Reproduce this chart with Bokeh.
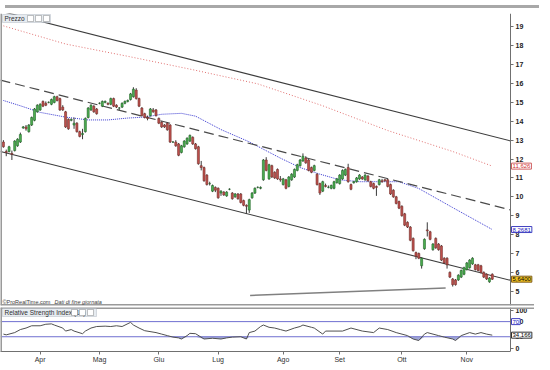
import numpy as np
from bokeh.plotting import figure
from bokeh.models import FixedTicker, Span, Label, Div, BoxAnnotation, Range1d, LinearAxis
from bokeh.layouts import column
from bokeh.embed import file_html
from bokeh.resources import INLINE

# ---------------- data ----------------
opens = [12.90, 12.40, 12.40, 12.30, 12.45, 12.70, 12.90, 13.65, 13.70, 13.45,
         13.80, 14.05, 14.50, 14.60, 15.05, 14.95, 15.00, 14.90, 15.00, 15.30,
         15.20, 14.75, 14.50, 14.10, 14.05, 13.80, 13.90, 13.45, 13.30, 13.45,
         14.20, 14.60, 14.80, 14.65, 14.95, 14.80, 15.00, 14.95, 14.90, 15.20,
         14.85, 14.70, 14.75, 14.95, 15.05, 15.15, 15.30, 15.65, 15.20, 14.70,
         14.40, 14.20, 14.30, 14.60, 14.60, 14.15, 13.95, 13.80, 13.90, 13.80,
         12.90, 12.90, 12.80, 12.35, 12.65, 12.80, 12.95, 13.15, 12.80, 12.65,
         11.65, 11.55, 11.15, 10.70, 10.30, 10.50, 10.45, 10.20, 10.25, 10.05,
         10.40, 10.20, 10.00, 10.15, 10.15, 9.80, 9.55, 9.30, 9.95, 10.20,
         10.50, 10.45, 10.90, 11.95, 10.95, 11.65, 11.30, 11.45, 10.95, 10.65,
         10.90, 10.55, 10.90, 11.05, 11.40, 11.65, 11.90, 12.05, 11.95, 11.55,
         11.40, 11.20, 10.70, 10.30, 10.60, 10.50, 10.45, 10.45, 10.75, 10.70,
         10.95, 11.15, 11.55, 10.65, 10.75, 10.80, 10.95, 11.05, 10.90, 11.10,
         10.80, 10.70, 10.55, 10.65, 10.85, 10.90, 10.90, 10.65, 10.35, 10.00,
         9.75, 9.50, 9.10, 8.65, 8.40, 7.80, 7.05, 7.00, 6.35, 7.25,
         8.25, 8.15, 7.20, 7.80, 7.50, 7.40, 6.75, 6.75, 6.00, 5.65,
         5.60, 5.60, 5.75, 5.90, 6.15, 6.25, 6.45, 6.40, 6.40, 6.35,
         6.00, 5.90, 5.50, 5.90]
highs = [13.00, 12.50, 12.70, 12.45, 13.00, 13.10, 13.40, 13.75, 13.80, 13.85,
         14.25, 14.70, 14.90, 14.95, 15.10, 15.05, 15.05, 15.20, 15.35, 15.35,
         15.25, 14.85, 14.55, 14.15, 14.15, 14.20, 13.95, 13.50, 13.60, 14.20,
         14.75, 14.90, 14.85, 14.70, 15.00, 15.10, 15.10, 15.00, 15.25, 15.25,
         14.90, 14.75, 15.00, 15.10, 15.15, 15.50, 15.80, 15.75, 15.25, 14.75,
         14.45, 14.30, 14.70, 14.70, 14.65, 14.20, 14.00, 13.85, 13.95, 13.85,
         12.95, 13.00, 12.85, 12.75, 13.00, 13.15, 13.30, 13.20, 12.85, 12.70,
         11.90, 11.60, 11.20, 10.80, 10.65, 10.55, 10.50, 10.35, 10.30, 10.30,
         10.45, 10.25, 10.20, 10.20, 10.20, 9.85, 9.60, 9.90, 10.25, 10.50,
         10.55, 10.55, 12.00, 12.10, 11.75, 11.70, 11.35, 11.50, 11.10, 11.00,
         10.95, 11.10, 11.25, 11.50, 11.75, 12.00, 12.30, 12.15, 12.00, 11.60,
         11.70, 11.25, 10.75, 10.85, 10.70, 10.60, 10.65, 10.85, 11.00, 11.20,
         11.45, 11.50, 11.75, 10.70, 10.85, 11.05, 11.20, 11.10, 11.20, 11.15,
         10.85, 10.75, 10.60, 10.95, 10.95, 10.95, 10.95, 10.70, 10.40, 10.05,
         9.80, 9.55, 9.15, 8.70, 8.45, 7.85, 7.10, 7.05, 6.80, 7.80,
         8.65, 8.20, 7.55, 7.85, 7.55, 7.45, 6.80, 6.80, 6.05, 5.70,
         5.65, 5.90, 6.15, 6.30, 6.55, 6.70, 6.80, 6.45, 6.45, 6.40,
         6.05, 5.95, 5.75, 5.95]
lows = [12.60, 12.15, 12.35, 11.95, 12.40, 12.65, 12.85, 13.60, 13.50, 13.40,
        13.75, 14.00, 14.45, 14.55, 14.75, 14.80, 14.95, 14.85, 14.95, 15.05,
        14.55, 14.55, 13.65, 13.55, 14.00, 13.60, 13.40, 13.15, 13.05, 13.40,
        14.15, 14.55, 14.45, 14.35, 14.90, 14.75, 14.95, 14.85, 14.85, 14.75,
        14.70, 14.60, 14.70, 14.90, 15.00, 15.10, 15.25, 15.15, 14.75, 14.25,
        14.15, 14.05, 14.25, 14.45, 14.25, 13.85, 13.65, 13.65, 13.50, 12.85,
        12.85, 12.65, 12.15, 12.30, 12.60, 12.75, 12.90, 12.75, 12.50, 11.70,
        11.40, 10.80, 10.60, 10.60, 10.25, 10.25, 9.90, 10.05, 10.05, 10.00,
        10.35, 9.85, 9.95, 9.85, 9.65, 9.50, 9.10, 9.15, 9.90, 10.15,
        10.45, 10.40, 10.85, 11.35, 10.90, 11.00, 10.95, 10.90, 10.80, 10.60,
        10.40, 10.50, 10.85, 11.00, 11.35, 11.60, 11.85, 11.75, 11.35, 11.25,
        11.35, 10.60, 10.10, 10.25, 10.50, 10.45, 10.40, 10.40, 10.70, 10.65,
        10.90, 11.10, 10.75, 10.35, 10.70, 10.75, 10.90, 10.90, 10.85, 10.80,
        10.50, 10.40, 10.05, 10.60, 10.75, 10.80, 10.50, 10.10, 9.95, 9.60,
        9.35, 8.95, 8.45, 8.35, 7.65, 7.10, 6.70, 6.70, 6.20, 7.20,
        7.90, 7.70, 7.15, 7.25, 7.15, 6.60, 6.45, 6.20, 5.70, 5.25,
        5.30, 5.55, 5.70, 5.85, 6.10, 6.20, 6.40, 6.10, 6.05, 5.95,
        5.70, 5.60, 5.45, 5.60]
closes = [12.65, 12.35, 12.65, 12.25, 12.95, 13.05, 13.30, 13.70, 13.60, 13.80,
          14.20, 14.65, 14.85, 14.90, 14.80, 14.85, 15.00, 15.15, 15.30, 15.10,
          14.60, 14.60, 13.70, 13.60, 14.10, 13.90, 13.45, 13.20, 13.35, 14.15,
          14.70, 14.85, 14.50, 14.40, 14.95, 15.05, 15.05, 14.90, 15.20, 14.80,
          14.75, 14.70, 14.95, 15.05, 15.10, 15.45, 15.70, 15.20, 14.80, 14.30,
          14.20, 14.15, 14.65, 14.50, 14.30, 13.90, 13.70, 13.70, 13.55, 12.90,
          12.90, 12.70, 12.20, 12.70, 12.95, 13.10, 13.25, 12.80, 12.55, 11.75,
          11.55, 10.85, 10.65, 10.70, 10.60, 10.35, 9.95, 10.30, 10.10, 10.25,
          10.40, 9.90, 10.15, 9.90, 9.70, 9.55, 9.50, 9.85, 10.20, 10.45,
          10.50, 10.50, 11.95, 11.40, 11.70, 11.05, 11.00, 10.95, 10.90, 10.95,
          10.45, 11.05, 11.20, 11.45, 11.70, 11.95, 12.15, 11.80, 11.40, 11.30,
          11.65, 10.65, 10.20, 10.80, 10.55, 10.50, 10.60, 10.80, 10.95, 11.15,
          11.40, 11.45, 10.80, 10.40, 10.80, 11.00, 11.15, 10.95, 11.15, 10.85,
          10.55, 10.45, 10.50, 10.90, 10.80, 10.85, 10.55, 10.15, 10.00, 9.65,
          9.40, 9.00, 8.50, 8.40, 7.70, 7.15, 6.85, 6.75, 6.75, 7.75,
          8.20, 7.75, 7.50, 7.30, 7.20, 6.65, 6.50, 6.40, 5.75, 5.35,
          5.35, 5.85, 6.10, 6.25, 6.50, 6.65, 6.75, 6.15, 6.10, 6.00,
          5.75, 5.65, 5.70, 5.64]

month_labels = ["Apr", "Mag", "Giu", "Lug", "Ago", "Set", "Ott", "Nov"]
month_idx = [13, 34, 55, 76, 99, 119, 141, 164]
price_ticks = [5, 6, 7, 8, 9, 10, 11, 12, 13, 14, 15, 16, 17, 18, 19]
rsi_ticks = [0, 30, 70, 100]

ma_blue_i = [0, 6, 13, 22, 30, 37, 44, 50, 56, 63, 68, 77, 87, 98, 105, 112,
             119, 126, 136, 140, 147, 159, 173]
ma_blue_v = [15.10, 14.82, 14.47, 14.22, 14.07, 14.07, 14.17, 14.22, 14.37, 14.42,
             14.27, 13.56, 12.91, 12.05, 11.55, 11.20, 10.90, 10.80, 10.80, 10.80,
             10.44, 9.43, 8.2681]
ma_red_i = [0, 22, 44, 67, 90, 113, 136, 159, 173]
ma_red_v = [19.05, 18.09, 17.44, 16.73, 15.98, 14.82, 13.51, 12.40, 11.626]

rsi_i = [0, 1, 4, 6, 8, 10, 13, 15, 17, 18, 21, 22, 24, 25, 28, 29, 31, 33, 36, 38,
         40, 42, 45, 46, 48, 50, 54, 56, 58, 60, 62, 63, 65, 66, 68, 71, 74, 77, 79, 81,
         84, 86, 87, 89, 91, 92, 94, 96, 98, 100, 103, 105, 106, 109, 110, 113, 114, 120,
         123, 127, 131, 133, 136, 139, 143, 145, 147, 149, 150, 154, 156, 159, 160, 162,
         165, 167, 169, 171, 173]
rsi_v = [37, 35, 41, 49, 53, 59, 59, 63, 64, 61, 53, 45, 49, 45, 38, 45, 53, 57, 58, 57,
         59, 57, 68, 61, 53, 46, 41, 37, 33, 29, 27, 24, 33, 39, 38, 24, 26, 24, 27, 29,
         30, 24, 41, 45, 57, 61, 55, 53, 49, 45, 53, 57, 61, 55, 53, 37, 45, 45,
         53, 45, 41, 53, 49, 41, 33, 24, 20, 37, 41, 33, 29, 24, 20, 33,
         41, 37, 41, 37, 34.166]
rsi_levels = [70, 30]

# trend lines: end points (index, price)
upper_i, upper_v = [-1.03, 179.45], [19.83, 12.96]
lower_i, lower_v = [-1.03, 179.45], [12.40, 5.58]
mid_i, mid_v = [-1.03, 179.45], [16.18, 9.31]
base_i, base_v = [87.3, 156.5], [4.78, 5.17]

# ---------------- layout ----------------
FONT = "Liberation Sans"
X0, X1 = -1.03, 179.45          # index range of the plotting area
FW_PLOT, W = 510, 534           # plotting area width, whole width (axis area inside)
XE = X0 + W * (X1 - X0) / FW_PLOT
PH, RH = 292, 44


def fmt(v, d):
    return f"{v:.{d}f}".replace(".", ",")


idx = np.arange(len(closes))
o, h, l, c = map(np.array, (opens, highs, lows, closes))
up = c >= o
body_fill = list(np.where(up, "#4caf50", "#c0504d"))
body_line = list(np.where(up, "#24662a", "#73302c"))


def make_fig(height, yr, bottom):
    f = figure(frame_width=W, frame_height=height, x_range=Range1d(X0, XE),
               y_range=yr, y_axis_location=None, toolbar_location=None,
               output_backend="svg", min_border_left=0, min_border_right=0,
               min_border_top=0, min_border_bottom=bottom)
    f.grid.visible = False
    f.outline_line_color = None
    return f


def add_yaxis(fig, ticks):
    ax = LinearAxis(fixed_location=X1, ticker=FixedTicker(ticks=ticks))
    ax.major_label_text_font = FONT
    ax.major_label_text_font_size = "7px"
    ax.major_label_text_font_style = "bold"
    ax.major_label_text_color = "#222222"
    ax.major_tick_out = 3
    ax.major_tick_in = 0
    ax.minor_tick_out = 0
    ax.minor_tick_in = 0
    ax.major_label_standoff = 2
    ax.axis_line_color = "#707070"
    ax.major_tick_line_color = "#707070"
    fig.add_layout(ax, "right")


def value_box(fig, y, text, color, fill, border):
    fig.add_layout(Label(x=X1, y=y, x_offset=1, text=text, text_font=FONT,
                         text_font_size="6px", text_color=color,
                         text_baseline="middle", background_fill_color=fill,
                         border_line_color=border, padding=1))


def title_box(fig, height, right, text, icons):
    fig.add_layout(BoxAnnotation(left=2, right=right, top=height - 1, bottom=height - 9,
                                 left_units="screen", right_units="screen",
                                 top_units="screen", bottom_units="screen",
                                 fill_color="#e6ebf0", fill_alpha=1,
                                 line_color="#8a96a6", line_width=1))
    fig.add_layout(Label(x=4, y=height - 5, x_units="screen", y_units="screen",
                         text=text, text_font=FONT, text_font_size="6.5px",
                         text_color="#303030", text_baseline="middle"))
    for xl in icons:
        fig.add_layout(BoxAnnotation(left=xl, right=xl + 6, top=height - 2,
                                     bottom=height - 8,
                                     left_units="screen", right_units="screen",
                                     top_units="screen", bottom_units="screen",
                                     fill_color="white", fill_alpha=1,
                                     line_color="#404040", line_width=1))


# ---------------- price panel ----------------
p = make_fig(PH, Range1d(4.247, 19.705), 2)
p.xaxis.visible = False
p.add_layout(Span(location=X0, dimension="height", line_color="#9a9a9a", line_width=3))
p.add_layout(Span(location=4.247, dimension="width", line_color="#9a9a9a", line_width=3))

p.line(ma_red_i, ma_red_v, line_color="#e07070", line_width=1, line_dash="1 2")
p.line(ma_blue_i, ma_blue_v, line_color="#3a3ad0", line_width=1, line_dash="1 1")
p.line(upper_i, upper_v, line_color="#3c3c3c", line_width=1.1)
p.line(lower_i, lower_v, line_color="#3c3c3c", line_width=1.1)
p.line(mid_i, mid_v, line_color="#4a4a4a", line_width=1.2, line_dash="10 5")
p.line(base_i, base_v, line_color="#808080", line_width=1.4)

p.segment(x0=idx, y0=l, x1=idx, y1=h, line_color="#3a3a3a", line_width=1)
p.vbar(x=idx, width=0.72, bottom=np.minimum(o, c), top=np.maximum(o, c),
       fill_color=body_fill, line_color=body_line, line_width=0.6)

add_yaxis(p, price_ticks)
value_box(p, ma_red_v[-1], fmt(ma_red_v[-1], 3), "#d03030", "white", "#d06060")
value_box(p, ma_blue_v[-1], fmt(ma_blue_v[-1], 4), "#2020c0", "white", "#4040c0")
value_box(p, closes[-1], fmt(closes[-1], 4), "#000000", "#f0c020", "#806020")

title_box(p, PH, 50, "Prezzo", (27, 35, 43))
p.add_layout(Label(x=2, y=4, x_units="screen", y_units="screen", text="©ProRealTime.com",
                   text_font=FONT, text_font_size="5.5px", text_color="#404040",
                   text_baseline="middle"))
p.add_layout(Label(x=54, y=4, x_units="screen", y_units="screen",
                   text="Dati di fine giornata", text_font=FONT, text_font_size="5.5px",
                   text_font_style="italic", text_color="#404040", text_baseline="middle"))

# ---------------- RSI panel ----------------
r = make_fig(RH, Range1d(-9.0, 107.3), 0)
r.add_layout(Span(location=X0, dimension="height", line_color="#9a9a9a", line_width=3))
r.add_layout(Span(location=107.3, dimension="width", line_color="#9a9a9a", line_width=3))
xa = r.xaxis[0]
xa.ticker = FixedTicker(ticks=month_idx)
xa.major_label_overrides = {i: s for i, s in zip(month_idx, month_labels)}
xa.major_label_text_font = FONT
xa.major_label_text_font_size = "7px"
xa.major_label_text_color = "#303030"
xa.major_tick_out = 3
xa.major_tick_in = 0
xa.minor_tick_out = 0
xa.minor_tick_in = 0
xa.major_label_standoff = 1
xa.axis_line_color = "#707070"
xa.major_tick_line_color = "#707070"
xa.bounds = (X0, X1)

for lv in rsi_levels:
    r.line([X0, X1], [lv, lv], line_color="#7070d0", line_width=1)
rv = np.array(rsi_v, dtype=float)
r.varea(x=rsi_i, y1=np.minimum(rv, 30), y2=30, fill_color="#8088c8", fill_alpha=0.75)
r.line(rsi_i, rsi_v, line_color="#505050", line_width=1)

add_yaxis(r, rsi_ticks)
value_box(r, rsi_levels[0], str(rsi_levels[0]), "#2020c0", "white", "#4040c0")
value_box(r, rsi_v[-1], fmt(rsi_v[-1], 3), "#000000", "white", "#303030")
title_box(r, RH, 96, "Relative Strength Index (14)", (71, 79, 87))

top_bar = Div(text="", width=W, height=3, styles={"background-color": "#a8a8a8"})
layout = column(top_bar, p, r, spacing=0)
open("out.html", "w").write(file_html(layout, INLINE))
